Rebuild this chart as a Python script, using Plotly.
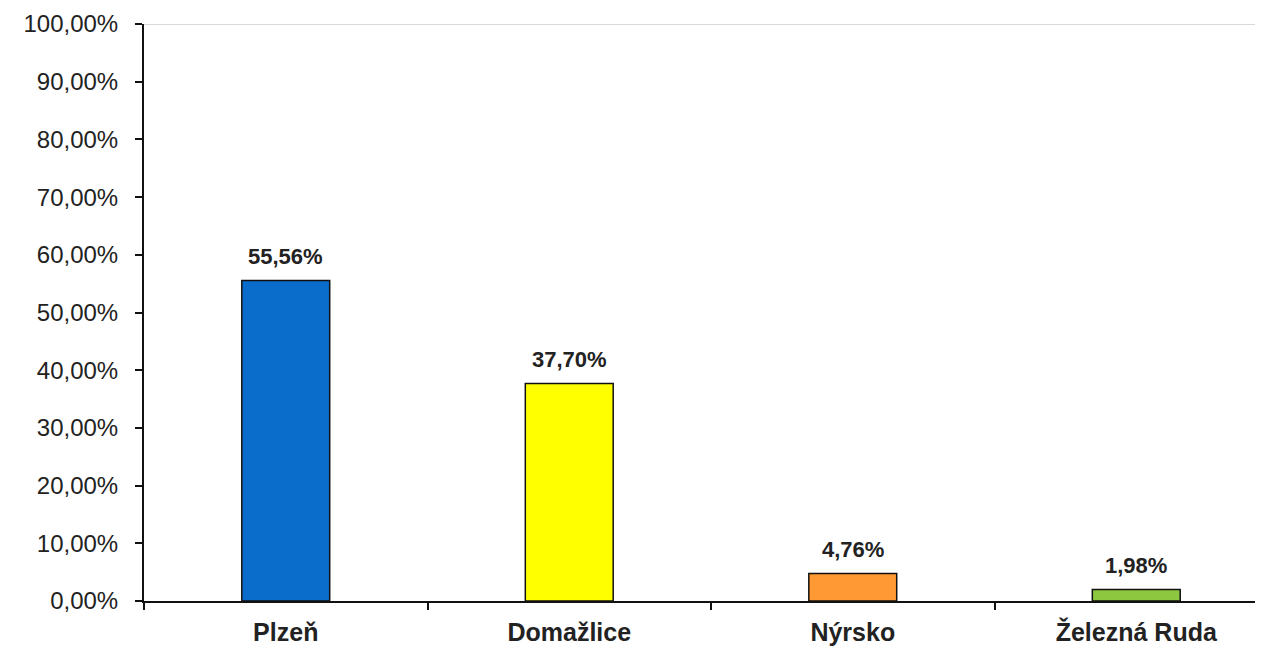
import plotly.graph_objects as go

categories = ["Plzeň", "Domažlice", "Nýrsko", "Železná Ruda"]
values = [0.5556, 0.3770, 0.0476, 0.0198]
colors = ["#0a6dcc", "#ffff00", "#ff9933", "#8dc63f"]
tick_vals = [i / 10 for i in range(11)]

FONT = "Liberation Sans, Arial"

fig = go.Figure()
fig.add_trace(go.Bar(
    x=categories, y=values, width=0.31,
    marker=dict(color=colors, line=dict(color="#111111", width=1.5)),
    hoverinfo="skip",
))
for c, v in zip(categories, values):
    fig.add_annotation(
        x=c, y=v, text=f"<b>{v*100:.2f}%</b>".replace(".", ","),
        showarrow=False, yanchor="middle", yshift=24,
        font=dict(family=FONT, size=22, color="#222222"),
    )

fig.update_layout(
    width=1255, height=639,
    margin=dict(l=136, r=0, t=16, b=46),
    paper_bgcolor="white", plot_bgcolor="white",
    separators=",.",
    showlegend=False,
    font=dict(family=FONT, size=24, color="#222222"),
    xaxis=dict(
        range=[-0.5, 3.447], showline=True, linecolor="#111111", linewidth=2,
        ticks="outside", tickson="boundaries", ticklen=7, tickwidth=2, tickcolor="#111111",
        ticklabelstandoff=8,
        tickfont=dict(size=25, family=FONT, color="#222222"),
        tickvals=categories, ticktext=[f"<b>{c}</b>" for c in categories],
        showgrid=False, zeroline=False,
    ),
    yaxis=dict(
        range=[0, 1], tickvals=tick_vals, tickformat=".2%",
        showline=True, linecolor="#111111", linewidth=2,
        ticks="outside", ticklen=7, tickwidth=2, tickcolor="#111111",
        ticklabelstandoff=12,
        showgrid=False, zeroline=False,
        tickfont=dict(size=24, family=FONT, color="#222222"),
    ),
    shapes=[dict(type="line", xref="paper", yref="y", x0=0, x1=1, y0=1, y1=1,
                 line=dict(color="#cccccc", width=1.5))],
)

fig.write_html("out.html")
